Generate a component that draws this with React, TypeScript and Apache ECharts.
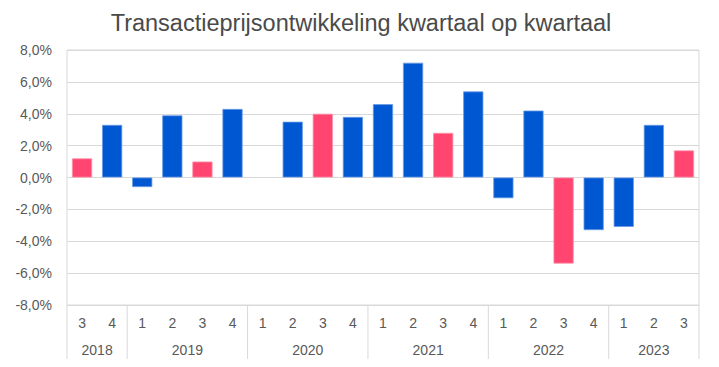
import React, { useEffect, useRef } from "react";
import * as echarts from "echarts";

const quarters = ["3", "4", "1", "2", "3", "4", "1", "2", "3", "4", "1", "2", "3", "4", "1", "2", "3", "4", "1", "2", "3"];
const values = [1.2, 3.3, -0.6, 3.9, 1.0, 4.3, 0, 3.5, 4.0, 3.8, 4.6, 7.2, 2.8, 5.4, -1.3, 4.2, -5.4, -3.3, -3.1, 3.3, 1.7];
const yearLabels = ["2018", "2019", "2020", "2021", "2022", "2023"];
const yearStart = [0, 2, 6, 10, 14, 18];
const yearEnd = [1, 5, 9, 13, 17, 20];

const FONT = "'Liberation Sans', Arial, sans-serif";
const BLUE = "#0057d2";
const PINK = "#ff4570";

export default function App() {
  const ref = useRef<HTMLDivElement>(null);
  useEffect(() => {
    if (!ref.current) return;
    const chart = echarts.init(ref.current, null, { renderer: "svg" });
    const groupData = yearLabels.map((y, i) => [yearStart[i], -8, yearEnd[i]]);
    chart.setOption({
      animation: false,
      backgroundColor: "#ffffff",
      title: {
        text: "Transactieprijsontwikkeling kwartaal op kwartaal",
        left: 356,
        textAlign: "center",
        top: 6,
        textStyle: { fontFamily: FONT, fontSize: 23.5, fontWeight: "normal", color: "#4a4a4a" },
      },
      grid: {
        left: 67,
        right: 20,
        top: 50,
        bottom: 62,
        show: true,
        borderColor: "#d9d9d9",
        borderWidth: 1,
      },
      xAxis: {
        type: "category",
        data: quarters,
        axisLine: { show: false, onZero: false },
        axisTick: { show: false },
        axisLabel: { fontFamily: FONT, fontSize: 14, color: "#595959", margin: 11, interval: 0 },
        splitLine: { show: false },
      },
      yAxis: {
        type: "value",
        min: -8,
        max: 8,
        interval: 2,
        axisLine: { show: false },
        axisTick: { show: false },
        axisLabel: {
          fontFamily: FONT,
          fontSize: 14,
          color: "#595959",
          margin: 15,
          formatter: (v: number) => v.toFixed(1).replace(".", ",") + "%",
        },
        splitLine: { lineStyle: { color: "#d9d9d9", width: 1 } },
      },
      series: [
        {
          type: "bar",
          data: values.map((v, i) => ({
            value: v,
            itemStyle: {
              color: quarters[i] === "3" ? PINK : BLUE,
              borderColor: quarters[i] === "3" ? "#ff8fa8" : "#6a9be6",
              borderWidth: v === 0 ? 0 : 0.8,
            },
          })),
          barCategoryGap: "33%",
        },
        {
          type: "custom",
          clip: false,
          silent: true,
          data: groupData,
          encode: { x: 0, y: 1 },
          renderItem: (params: any, api: any) => {
            const s = api.value(0);
            const e = api.value(2);
            const band = api.size([1, 0])[0];
            const p0 = api.coord([s, -8]);
            const p1 = api.coord([e, -8]);
            const x0 = p0[0] - band / 2;
            const x1 = p1[0] + band / 2;
            const yb = p0[1];
            const children: any[] = [
              {
                type: "line",
                shape: { x1: x0, y1: yb, x2: x0, y2: yb + 54 },
                style: { stroke: "#d9d9d9", lineWidth: 1 },
              },
              {
                type: "text",
                x: (x0 + x1) / 2,
                y: yb + 45,
                style: {
                  text: yearLabels[params.dataIndex],
                  fontFamily: FONT,
                  fontSize: 14,
                  fill: "#595959",
                  align: "center",
                  verticalAlign: "middle",
                },
              },
            ];
            if (params.dataIndex === yearLabels.length - 1) {
              children.push({
                type: "line",
                shape: { x1: x1, y1: yb, x2: x1, y2: yb + 54 },
                style: { stroke: "#d9d9d9", lineWidth: 1 },
              });
            }
            return { type: "group", children };
          },
        },
      ],
    });
    return () => chart.dispose();
  }, []);
  return <div ref={ref} style={{ width: 719, height: 367, marginLeft: -8, marginTop: -8 }} />;
}
